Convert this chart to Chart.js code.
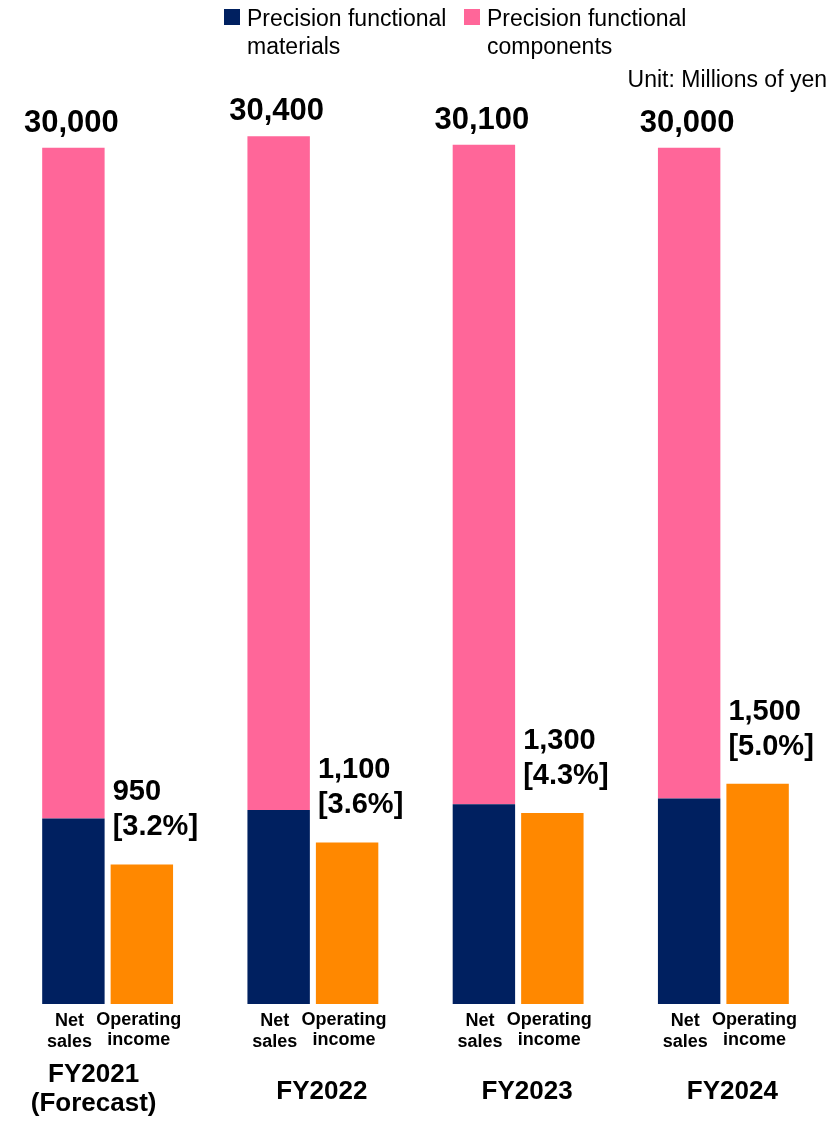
<!DOCTYPE html>
<html><head><meta charset="utf-8">
<script src="https://cdn.jsdelivr.net/npm/chart.js@4.4.1/dist/chart.umd.min.js"></script>
<style>html,body{margin:0;padding:0;background:#fff;overflow:hidden}canvas{display:block}</style>
</head><body><canvas id="c" width="833" height="1121"></canvas>
<script>
const categories = ['FY2021', 'FY2022', 'FY2023', 'FY2024'];
const categorySubLabels = ['(Forecast)', '', '', ''];
const netSalesTotal = [30000, 30400, 30100, 30000];
const materialsSales = [6500, 6800, 7000, 7200];
const componentsSales = [23500, 23600, 23100, 22800];
const operatingIncome = [950, 1100, 1300, 1500];
const operatingMargin = ['3.2%', '3.6%', '4.3%', '5.0%'];
const barLabels = [['Net', 'sales'], ['Operating', 'income']];
const seriesNames = [['Precision functional', 'materials'], ['Precision functional', 'components'], 'Operating income'];
const unitText = 'Unit: Millions of yen';

const FONT = '"Liberation Sans", Arial, Helvetica, sans-serif';
const COLORS = ['#002060', '#FF6699', '#FF8800'];
const fmt = v => String(v).replace(/\B(?=(\d{3})+(?!\d))/g, ',');

const annot = {
  id: 'annot',
  afterDraw(chart) {
    const ctx = chart.ctx;
    const bottom = chart.chartArea.bottom;
    const mNavy = chart.getDatasetMeta(0), mPink = chart.getDatasetMeta(1), mOI = chart.getDatasetMeta(2);
    ctx.save();
    ctx.textBaseline = 'alphabetic';
    // legend
    const legendX = [224, 464];
    [0, 1].forEach(k => {
      ctx.fillStyle = COLORS[k];
      ctx.fillRect(legendX[k], 9, 16, 16);
      ctx.fillStyle = '#000';
      ctx.font = '23px ' + FONT;
      ctx.textAlign = 'left';
      ctx.fillText(seriesNames[k][0], legendX[k] + 23, 26);
      ctx.fillText(seriesNames[k][1], legendX[k] + 23, 54);
    });
    ctx.textAlign = 'right';
    ctx.fillText(unitText, 827, 87);

    categories.forEach((cat, i) => {
      const navy = mNavy.data[i], pink = mPink.data[i], oi = mOI.data[i];
      ctx.fillStyle = '#000';
      // total net sales
      ctx.font = 'bold 31px ' + FONT;
      ctx.textAlign = 'center';
      ctx.fillText(fmt(netSalesTotal[i]), pink.x - 2, pink.y - 16);
      // operating income
      ctx.font = 'bold 29px ' + FONT;
      ctx.textAlign = 'left';
      const left = oi.x - oi.width / 2 + 2;
      ctx.fillText(fmt(operatingIncome[i]), left, oi.y - 64);
      ctx.fillText('[' + operatingMargin[i] + ']', left, oi.y - 29);
      // bar labels
      ctx.font = 'bold 18px ' + FONT;
      ctx.textAlign = 'center';
      ctx.fillText(barLabels[0][0], navy.x - 4, bottom + 22);
      ctx.fillText(barLabels[0][1], navy.x - 4, bottom + 43);
      ctx.fillText(barLabels[1][0], oi.x - 3, bottom + 21);
      ctx.fillText(barLabels[1][1], oi.x - 3, bottom + 41);
      // category
      const cx = chart.scales.x.getPixelForValue(i);
      ctx.font = 'bold 26px ' + FONT;
      if (categorySubLabels[i]) {
        ctx.fillText(cat, cx - 14, bottom + 78);
        ctx.fillText(categorySubLabels[i], cx - 14, bottom + 107);
      } else {
        ctx.fillText(cat, cx + 9, bottom + 95);
      }
    });
    ctx.restore();
  }
};

new Chart(document.getElementById('c'), {
  type: 'bar',
  data: {
    labels: categories,
    datasets: [
      { label: seriesNames[0].join(' '), data: materialsSales, backgroundColor: COLORS[0], stack: 'sales', yAxisID: 'y' },
      { label: seriesNames[1].join(' '), data: componentsSales, backgroundColor: COLORS[1], stack: 'sales', yAxisID: 'y' },
      { label: seriesNames[2], data: operatingIncome, backgroundColor: COLORS[2], stack: 'oi', yAxisID: 'y2' }
    ]
  },
  options: {
    responsive: false,
    devicePixelRatio: 1,
    animation: false,
    layout: { padding: { left: 5, right: 7, top: 5, bottom: 117 } },
    datasets: { bar: { categoryPercentage: 0.667, barPercentage: 0.912, borderWidth: 0 } },
    scales: {
      x: { display: false, stacked: true },
      y: { display: false, stacked: true, min: 0, max: 35000 },
      y2: { display: false, stacked: true, min: 0, max: 6800 }
    },
    plugins: { legend: { display: false }, tooltip: { enabled: false } }
  },
  plugins: [annot]
});
</script>
</body></html>
